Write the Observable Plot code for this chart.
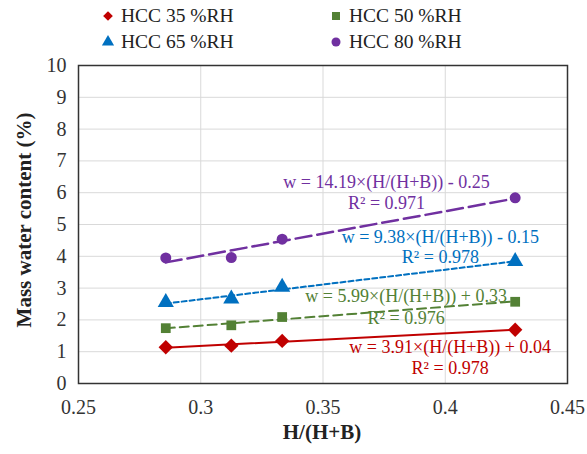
<!DOCTYPE html>
<html><head><meta charset="utf-8">
<script src="https://cdn.jsdelivr.net/npm/d3@7"></script>
<script src="https://cdn.jsdelivr.net/npm/@observablehq/plot@0.6"></script>
<style>
body{margin:0;background:#fff;}
body, #legend, #legend span, svg, svg text {font-family:"Liberation Serif","Times New Roman",serif !important;}
#legend{position:relative;height:55px;width:587px;font-size:19.5px;color:#222;}
.item{position:absolute;display:flex;align-items:center;gap:5px;line-height:1;}
#chart svg{display:block;}
</style></head><body>
<div id="legend"></div><div id="chart"></div>
<script>
const xValues = [0.2857, 0.3125, 0.3333, 0.4286];
const rh35 = [1.14, 1.19, 1.34, 1.69];
const rh50 = [1.74, 1.83, 2.09, 2.57];
const rh65 = [2.55, 2.66, 3.03, 3.84];
const rh80 = [3.95, 3.96, 4.54, 5.84];
const seriesNames = ["HCC 35 %RH", "HCC 50 %RH", "HCC 65 %RH", "HCC 80 %RH"];
const seriesColors = ["#C00000", "#538135", "#0070C0", "#7030A0"];
const seriesSymbols = ["diamond2", "square", "triangle", "circle"];
const equations = ["w = 3.91×(H/(H+B)) + 0.04", "w = 5.99×(H/(H+B)) + 0.33", "w = 9.38×(H/(H+B)) - 0.15", "w = 14.19×(H/(H+B)) - 0.25"];
const r2Labels = ["R² = 0.978", "R² = 0.976", "R² = 0.978", "R² = 0.971"];
const eqX = [0.402, 0.384, 0.398, 0.376];
const eqY = [1.13, 2.74, 4.59, 6.32];
const r2Y = [0.47, 2.04, 3.96, 5.66];
const xTicks = [0.25, 0.3, 0.35, 0.4, 0.45];
const yTicks = [0,1,2,3,4,5,6,7,8,9,10];

const allValues = [rh35, rh50, rh65, rh80];
const data = [];
allValues.forEach((vals, s) => vals.forEach((v, i) => data.push({series: seriesNames[s], x: xValues[i], y: v})));
const notes = seriesNames.map((n, s) => ({series: n, x: eqX[s], eq: equations[s], yEq: eqY[s], r2: r2Labels[s], yR2: r2Y[s]}));

const dashes = [null, "9,5", "5,3", "16,6"];
const widths = [2, 2, 2, 2.5];
const symD3 = {diamond2: d3.symbolDiamond2, square: d3.symbolSquare, triangle: d3.symbolTriangle, circle: d3.symbolCircle};
const FONT = '"Liberation Serif","Times New Roman",serif';

// legend
const legend = document.getElementById("legend");
const legendPos = [[100, 6], [328, 6], [100, 32], [328, 32]];
seriesNames.forEach((n, s) => {
  const div = document.createElement("div");
  div.className = "item";
  div.style.left = legendPos[s][0] + "px";
  div.style.top = legendPos[s][1] + "px";
  const path = d3.symbol(symD3[seriesSymbols[s]], s === 0 ? 60 : 64)();
  div.innerHTML = `<svg width="16" height="16" viewBox="-8 -8 16 16"><path d="${path}" fill="${seriesColors[s]}"/></svg><span>${n}</span>`;
  legend.appendChild(div);
});

const marks = [
  Plot.gridX(xTicks, {stroke: "#d9d9d9", strokeOpacity: 1}),
  Plot.gridY(yTicks, {stroke: "#d9d9d9", strokeOpacity: 1}),
  Plot.axisX(xTicks, {tickSize: 0, tickPadding: 16, fontSize: 20, fill: "#333", tickFormat: d => String(+d.toFixed(2)), label: null}),
  Plot.axisY(yTicks, {tickSize: 0, tickPadding: 12, fontSize: 20, fill: "#333", label: null}),
];
seriesNames.forEach((n, s) => {
  const sub = data.filter(d => d.series === n);
  marks.push(Plot.linearRegressionY(sub, {x: "x", y: "y", stroke: seriesColors[s], strokeWidth: widths[s], strokeDasharray: dashes[s], ci: 0}));
});
seriesNames.forEach((n, s) => {
  const sub = data.filter(d => d.series === n);
  marks.push(Plot.dot(sub, {x: "x", y: "y", fill: seriesColors[s], symbol: seriesSymbols[s], r: s === 0 ? 6.5 : (s === 2 ? 6 : 5.5), stroke: "none"}));
});
notes.forEach((d, s) => {
  marks.push(Plot.text([d], {x: "x", y: "yEq", text: "eq", fill: seriesColors[s], fontSize: 18}));
  marks.push(Plot.text([d], {x: "x", y: "yR2", text: "r2", fill: seriesColors[s], fontSize: 18}));
});
marks.push(Plot.frame({stroke: "#333", strokeWidth: 1.5}));

const plot = Plot.plot({
  width: 587, height: 399,
  marginLeft: 78, marginRight: 20, marginTop: 10, marginBottom: 71,
  style: {fontFamily: FONT, background: "#fff"},
  x: {domain: [0.25, 0.45]},
  y: {domain: [0, 10]},
  marks
});
const svg = d3.select(plot);
svg.append("text").attr("x", 322).attr("y", 384).attr("text-anchor", "middle")
  .attr("font-size", 21).attr("font-weight", "bold").attr("fill", "#222").text("H/(H+B)");
svg.append("text").attr("transform", "translate(31,165) rotate(-90)").attr("text-anchor", "middle")
  .attr("font-size", 21).attr("font-weight", "bold").attr("fill", "#222").text("Mass water content (%)");
document.getElementById("chart").appendChild(plot);
</script>
</body></html>
